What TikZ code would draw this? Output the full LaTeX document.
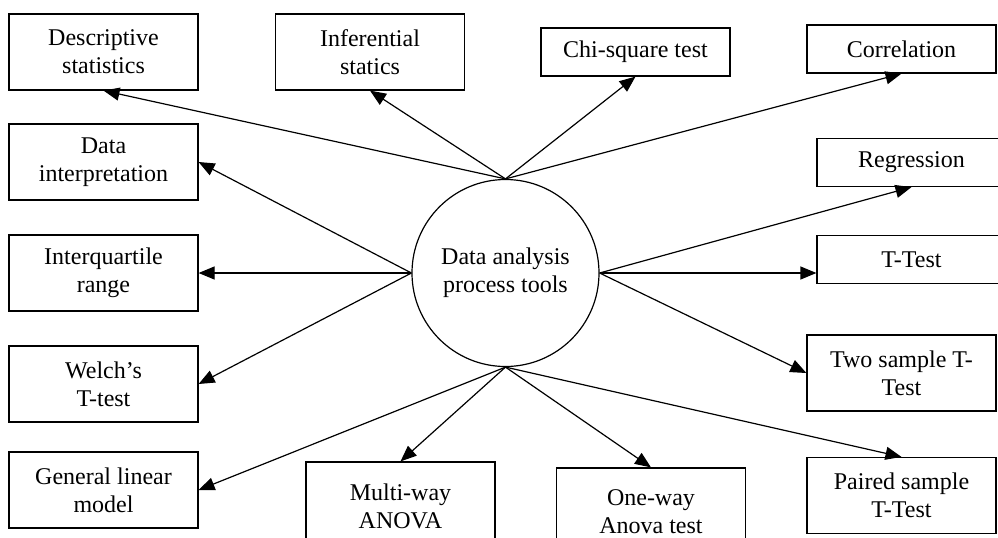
\documentclass[tikz,border=0pt]{standalone}
\usepackage{fontspec}
\setmainfont{Liberation Serif}
\usetikzlibrary{positioning,arrows.meta}

\begin{document}
\begin{tikzpicture}[x=0.5pt, y=-0.5pt,
  tool/.style={draw, line width=0.6pt, minimum width=94.5pt, minimum height=38pt,
    align=center, inner sep=0pt, font=\fontsize{12}{14}\selectfont},
  flat/.style={tool, minimum height=24pt},
  tall/.style={tool, minimum height=44pt},
  link/.style={-{Triangle[length=8pt,width=6.5pt]}, line width=0.6pt}]
\clip (0,0) rectangle (998,537);
% centre
\node[draw, circle, line width=0.6pt, minimum size=93.5pt, inner sep=0pt, align=center,
  font=\fontsize{12}{14}\selectfont] (hub) at (505.5,273) {Data analysis\\process tools};
% top row
\node[tool] (desc) at (103.5,52) {Descriptive\\statistics};
\node[tool] (infer) at (370,52) {Inferential\\statics};
\node[flat] (chi) at (635.5,52) {Chi-square test};
\node[flat] (corr) at (901.5,49) {Correlation};
% left column
\node[tool] (interp) at (103.5,162) {Data\\interpretation};
\node[tool] (iqr) at (103.5,273) {Interquartile\\range};
\node[tool] (welch) at (103.5,384) {Welch’s\\T-test};
\node[tool] (glm) at (103.5,490) {General linear\\model};
% bottom row
\node[tall] (multi) at (400.5,506) {Multi-way\\ANOVA};
\node[tall] (oneway) at (651,512) {One-way\\Anova test};
% right column
\node[flat] (regr) at (911.5,162.5) {Regression};
\node[flat] (ttest) at (911.5,259.5) {T-Test};
\node[tool] (twos) at (901.5,373) {Two sample T-\\Test};
\node[tool] (paired) at (901.5,495.5) {Paired sample\\T-Test};
% arrows out of the circle
\foreach \t in {desc,infer,chi,corr}
  \draw[link] (hub.north) -- (\t.south);
\foreach \t in {interp,iqr,welch}
  \draw[link] (hub.west) -- (\t.east);
\draw[link] (hub.east) -- (regr.south);
\draw[link] (hub.east) -- (hub.east -| ttest.west);
\draw[link] (hub.east) -- (twos.west);
\draw[link] (hub.south) -- (glm.east);
\foreach \t in {multi,oneway,paired}
  \draw[link] (hub.south) -- (\t.north);
\end{tikzpicture}
\end{document}
